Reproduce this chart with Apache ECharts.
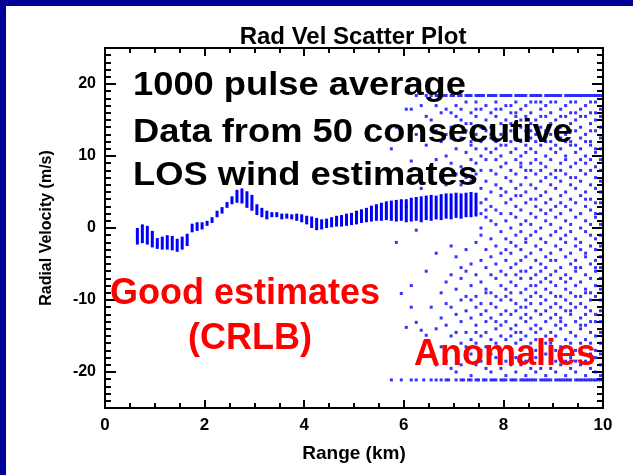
<!DOCTYPE html>
<html>
<head>
<meta charset="utf-8">
<script src="https://cdn.jsdelivr.net/npm/echarts@6/dist/echarts.min.js"></script>
<style>
html,body{margin:0;padding:0;background:#fff;}
#chart{width:633px;height:475px;}
</style>
</head>
<body>
<div id="chart"></div>
<script>
// ---- Data ----
const yTicks = [-20, -10, 0, 10, 20];

// "Good estimates": per range gate, spread (low..high) of the 50 consecutive estimates
const goodRange = [0.65,0.75,0.85,0.95,1.05,1.15,1.25,1.35,1.45,1.55,1.65,1.75,1.85,1.95,2.05,2.15,2.25,2.35,2.45,2.55,
  2.65,2.75,2.85,2.95,3.05,3.15,3.25,3.35,3.45,3.55,3.65,3.75,3.85,3.95,4.05,4.15,4.25,4.35,4.45,4.55,
  4.65,4.75,4.85,4.95,5.05,5.15,5.25,5.35,5.45,5.55,5.65,5.75,5.85,5.95,6.05,6.15,6.25,6.35,6.45,6.55,
  6.65,6.75,6.85,6.95,7.05,7.15,7.25,7.35,7.45];
const goodLow = [-2.3,-2.1,-2.3,-2.7,-2.9,-3.0,-3.0,-3.1,-3.3,-3.0,-2.5,-0.6,-0.4,-0.2,0.3,0.7,1.5,2.0,2.8,3.3,
  3.5,3.4,2.8,2.4,1.8,1.5,1.2,1.5,1.5,1.2,1.3,1.2,1.0,0.8,0.5,0.0,-0.3,-0.2,0.0,0.1,
  0.2,0.2,0.3,0.4,0.5,0.7,0.8,0.9,1.0,1.0,1.1,1.0,0.9,1.0,0.8,0.9,1.0,0.8,1.1,1.0,
  1.2,1.1,1.3,1.2,1.4,1.3,1.5,1.5,1.6];
const goodHigh = [0.0,0.5,0.3,-0.4,-1.4,-1.2,-1.0,-1.1,-1.5,-1.2,-0.8,0.6,0.8,0.8,1.0,1.5,2.4,2.9,3.6,4.4,
  5.3,5.5,5.1,4.6,3.3,2.8,2.4,2.2,2.2,2.0,2.0,1.9,2.0,1.9,1.7,1.6,1.4,1.2,1.3,1.5,
  1.7,1.8,2.0,2.1,2.4,2.6,2.8,3.1,3.3,3.5,3.7,3.8,3.9,4.0,4.0,4.2,4.3,4.4,4.5,4.6,
  4.5,4.7,4.8,4.8,4.9,4.8,4.9,5.0,4.9];

// "Anomalies": scattered estimates per range gate
const anomRange = [5.75,5.85,5.95,6.05,6.15,6.25,6.35,6.45,6.55,6.65,6.75,6.85,6.95,7.05,7.15,7.25,7.35,7.45,7.55,7.65,
  7.75,7.85,7.95,8.05,8.15,8.25,8.35,8.45,8.55,8.65,8.75,8.85,8.95,9.05,9.15,9.25,9.35,9.45,9.55,9.65,
  9.75,9.85,9.95];
const anomVel = [
  [11.0],
  [-2.0, 14.0],
  [-9.1, 6.5],
  [-13.8, 16.5, 3.0],
  [9.3, -8.0, -11.0, 16.5],
  [-0.3, -13.1, 13.0],
  [-14.2, 5.5, 17.0],
  [-14.9, 11.5, -6.0, 15.5],
  [-11.0, 8.0, 15.0, -17.5],
  [13.5, -3.5, -14.0, 17.0, -19.0, 9.5],
  [7.0, -9.0, -16.5, 12.0, 16.0, -12.5],
  [16.5, 10.0, -7.5, -13.5, -18.5, 6.0, -10.5, 13.0],
  [14.0, 9.0, -2.5, -11.0, -15.0, -19.5, 12.5, -6.5, 16.0],
  [17.0, 11.0, 7.5, -8.5, -12.0, -17.0, -20.0, 15.5, -4.0, -14.5],
  [15.0, 12.5, 8.5, 6.0, -7.0, -10.0, -13.0, -16.0, -19.0, 16.5, -5.5],
  [17.5, 13.5, 10.5, 7.0, -3.0, -9.5, -11.5, -14.5, -18.0, 14.5, -6.0, -16.5],
  [16.0, 14.5, 11.5, 9.5, 6.5, -5.0, -8.0, -12.5, -15.5, -17.5, -20.5, 12.0, -10.0],
  [17.5, 15.5, 13.0, 9.0, 7.5, -2.0, -6.5, -9.5, -11.0, -13.5, -16.0, -19.0, 11.0, -14.5, 16.5],
  [16.5, 14.0, 12.0, 10.0, 8.0, 5.5, 0.0, -4.5, -7.5, -10.5, -12.0, -15.0, -17.0, -18.5, 3.5, 2.0, -1.0],
  [17.0, 15.0, 13.5, 11.0, 9.5, 6.5, 4.0, 1.5, -3.0, -5.5, -8.5, -11.5, -13.0, -14.5, -16.5, -19.5, 2.5, -9.0],
  [16.0, 14.0, 12.5, 10.5, 8.0, 5.0, 3.0, -1.5, -4.0, -6.5, -9.0, -10.5, -12.5, -15.5, -17.5, -20.0, 1.0, 13.0],
  [17.5, 15.5, 12.0, 9.5, 7.5, 6.0, 2.5, 0.5, -2.5, -5.0, -7.0, -9.5, -11.0, -14.0, -16.0, -18.0, 11.0, -13.0, 16.5],
  [16.5, 14.5, 13.0, 10.0, 8.5, 4.5, 2.0, -0.5, -3.5, -6.0, -8.0, -10.0, -12.0, -13.5, -15.0, -17.0, -19.5, 11.5, 5.5],
  [17.0, 15.0, 12.5, 11.5, 9.0, 7.0, 5.0, 3.5, 1.0, -1.5, -4.5, -6.5, -8.5, -9.5, -11.5, -13.0, -15.5, -16.5, -18.5, -20.5, 14.0, -3.0],
  [16.0, 14.5, 13.5, 10.5, 8.0, 6.5, 4.0, 2.0, 0.0, -2.0, -3.5, -5.5, -7.5, -10.0, -12.0, -14.0, -15.0, -17.5, -19.0, 12.0, -9.0, 17.0],
  [17.5, 15.5, 13.0, 11.0, 9.5, 7.5, 5.5, 3.0, 1.5, -1.0, -2.5, -5.0, -6.5, -8.0, -10.5, -11.5, -13.5, -16.0, -18.0, -20.0, 16.0, 4.5, -14.5],
  [16.5, 14.0, 12.0, 10.0, 8.5, 6.0, 4.5, 2.5, 0.5, -0.5, -3.0, -4.5, -7.0, -9.0, -11.0, -12.5, -14.5, -15.5, -17.0, -19.0, 15.0, 9.0, -6.0],
  [17.0, 15.5, 13.5, 11.5, 10.5, 7.0, 5.0, 3.5, 1.0, -1.5, -2.0, -4.0, -6.0, -8.5, -10.0, -12.0, -13.0, -15.0, -16.5, -18.5, -20.5, 8.0, -11.0],
  [16.0, 14.5, 12.5, 11.0, 9.0, 8.0, 6.0, 4.0, 2.0, 0.5, -1.0, -3.5, -5.5, -7.0, -9.5, -10.5, -12.5, -14.0, -16.0, -17.5, -19.5, 17.5, 13.5, -8.0],
  [17.5, 15.0, 13.0, 10.5, 9.5, 7.5, 5.5, 3.0, 1.5, -0.5, -2.5, -4.5, -6.5, -8.0, -9.0, -11.5, -13.5, -15.5, -17.0, -18.0, -20.0, 12.0, 4.0, -14.5],
  [16.5, 14.0, 12.5, 11.5, 9.0, 6.5, 4.5, 2.5, 0.0, -1.5, -3.0, -5.0, -7.5, -9.5, -10.5, -12.0, -14.0, -16.5, -18.5, -19.5, 15.5, 8.0, -6.0, 17.5],
  [17.0, 15.5, 13.5, 10.0, 8.5, 7.0, 5.0, 3.5, 1.0, -2.0, -4.0, -5.5, -8.5, -10.0, -11.5, -13.0, -15.0, -16.0, -17.5, -20.5, 12.0, -7.0, 2.0],
  [16.0, 14.5, 12.0, 11.0, 9.5, 6.0, 4.0, 2.5, 0.5, -1.0, -3.5, -6.5, -7.5, -9.0, -11.0, -12.5, -14.5, -16.0, -18.0, -19.5, 17.5, 13.0, 7.5, -4.5, -15.5],
  [17.5, 15.0, 13.5, 10.5, 8.0, 7.0, 5.5, 3.0, 1.5, -0.5, -2.5, -4.5, -6.0, -8.0, -10.5, -12.0, -13.5, -15.0, -17.0, -18.5, -20.0, 11.5, -9.5],
  [16.5, 14.0, 12.5, 11.0, 9.0, 6.5, 4.5, 2.0, 0.0, -1.5, -3.0, -5.5, -7.0, -9.5, -11.0, -12.5, -14.0, -16.5, -17.5, -19.0, 15.5, 8.0, -13.0, 3.5],
  [17.0, 15.5, 13.0, 10.0, 9.5, 7.5, 5.0, 3.0, 1.0, -1.0, -2.0, -4.0, -6.5, -8.5, -10.0, -11.5, -13.5, -15.5, -16.5, -18.5, -20.5, 12.0, -7.5],
  [16.0, 14.5, 12.0, 11.5, 8.5, 6.0, 4.0, 2.5, 0.5, -0.5, -3.5, -5.0, -7.0, -9.0, -10.5, -12.0, -14.5, -16.0, -18.0, -19.5, 17.5, 13.5, 7.0, -11.5],
  [17.5, 15.0, 13.5, 10.5, 9.0, 7.0, 5.5, 3.5, 1.5, -1.5, -2.5, -4.5, -6.0, -8.0, -9.5, -11.0, -13.0, -15.0, -17.0, -18.5, -20.0, 11.5, -5.5, 16.0],
  [16.5, 14.0, 12.5, 11.0, 8.0, 6.5, 4.5, 2.0, 0.0, -2.0, -3.0, -5.5, -7.5, -9.5, -10.5, -12.5, -14.0, -16.0, -17.5, -19.0, 15.5, 9.5, -13.5],
  [17.0, 15.5, 13.0, 10.0, 9.0, 7.5, 5.0, 3.0, 1.0, -0.5, -3.5, -4.0, -6.5, -8.5, -11.0, -12.0, -13.5, -15.5, -16.5, -18.5, -20.5, 12.0, -9.0, 4.0],
  [16.0, 14.5, 12.0, 11.5, 9.5, 6.0, 4.0, 2.5, 0.5, -1.0, -2.5, -5.0, -7.0, -9.0, -10.0, -11.5, -14.5, -16.0, -17.5, -19.5, 17.5, 13.5, 8.0, -13.0],
  [17.5, 15.0, 13.5, 10.5, 8.5, 7.0, 5.5, 3.5, 1.5, -1.5, -3.0, -4.5, -6.0, -8.0, -9.5, -12.0, -13.0, -15.0, -17.0, -18.0, -20.0, 11.0, -5.5, 16.0, 2.0],
  [16.5, 15.5, 14.0, 12.5, 11.0, 9.5, 8.0, 6.5, 5.0, 3.5, 2.0, 0.5, -1.0, -2.5, -4.0, -5.5, -7.0, -8.5, -10.0, -11.5, -13.0, -14.5, -16.0, -17.5, -19.0, -20.5]
];

// Estimates pinned at the velocity limits (top and bottom rows)
const topLimit = 18.4;
const topRowRange = [6.25,6.45,6.55,6.65,6.7,6.8,6.85,6.95,7.0,7.1,7.15,7.25,7.3,7.35,7.45,7.5,7.55,7.6,7.7,7.75,
  7.8,7.85,7.95,8.0,8.05,8.1,8.15,8.25,8.3,8.35,8.4,8.45,8.55,8.6,8.65,8.7,8.75,8.85,8.9,8.95,
  9.0,9.05,9.1,9.15,9.25,9.3,9.35,9.4,9.45,9.5,9.55,9.6,9.65,9.7,9.75,9.8,9.85,9.9,9.95];
const bottomLimit = -21.1;
const bottomRowRange = [5.75,5.95,6.15,6.25,6.4,6.55,6.65,6.75,6.85,6.9,7.05,7.15,7.2,7.3,7.35,7.45,7.5,7.6,7.65,7.75,
  7.8,7.85,7.95,8.0,8.05,8.15,8.2,8.25,8.35,8.4,8.45,8.5,8.55,8.6,8.65,8.75,8.8,8.85,8.9,8.95,
  9.05,9.1,9.15,9.2,9.25,9.3,9.35,9.45,9.5,9.55,9.6,9.65,9.7,9.75,9.8,9.85,9.9,9.95];

// ---- Build ----
const goodData = goodRange.map((r, i) => [r, goodLow[i], goodHigh[i]]);
const anomData = [];
anomRange.forEach((r, i) => anomVel[i].forEach(v => anomData.push([r, v])));
topRowRange.forEach(r => anomData.push([r, topLimit]));
bottomRowRange.forEach(r => anomData.push([r, bottomLimit]));

const FONT = '"Liberation Sans", Arial, Helvetica, sans-serif';
const BLUE = '#0000ff';

function tickStyle() { return { color: '#000', width: 2 }; }
function xAx(pos, showLabel) {
  return {
    type: 'value', position: pos, min: 0, max: 10, interval: 2,
    axisLine: { show: true, onZero: false, lineStyle: { color: '#000', width: 2 } },
    axisTick: { show: true, inside: true, length: 8, lineStyle: tickStyle() },
    minorTick: { show: true, splitNumber: 4, length: 5, lineStyle: tickStyle() },
    splitLine: { show: false }, minorSplitLine: { show: false },
    axisLabel: showLabel ? {
      show: true, margin: 9, fontSize: 17, fontWeight: 'bold', color: '#000', fontFamily: FONT
    } : { show: false },
    name: showLabel ? 'Range (km)' : '', nameLocation: 'middle', nameGap: 36,
    nameTextStyle: { fontSize: 19, fontWeight: 'bold', color: '#000', fontFamily: FONT }
  };
}
function yMinor(pos, showLabel) {
  return {
    type: 'value', position: pos, min: -25, max: 25, interval: 1,
    axisLine: { show: true, onZero: false, lineStyle: { color: '#000', width: 2 } },
    axisTick: { show: true, inside: true, length: 6, lineStyle: tickStyle() },
    splitLine: { show: false },
    axisLabel: showLabel ? {
      show: true, margin: 9, fontSize: 16, fontWeight: 'bold', color: '#000', fontFamily: FONT,
      formatter: function (v) { return yTicks.indexOf(Math.round(v)) >= 0 ? String(Math.round(v)) : ''; }
    } : { show: false },
    name: showLabel ? 'Radial Velocity (m/s)' : '', nameLocation: 'middle', nameGap: 50,
    nameTextStyle: { fontSize: 16, fontWeight: 'bold', color: '#000', fontFamily: FONT }
  };
}
function yMajor(pos) {
  return {
    type: 'value', position: pos, min: -25, max: 25, interval: 1,
    axisLine: { show: false, onZero: false },
    axisTick: { show: true, inside: true, length: 11, lineStyle: tickStyle(), customValues: yTicks },
    splitLine: { show: false },
    axisLabel: { show: false }
  };
}

const chart = echarts.init(document.getElementById('chart'), null, { renderer: 'canvas' });
chart.setOption({
  animation: false,
  backgroundColor: '#ffffff',
  title: {
    text: 'Rad Vel Scatter Plot', left: 348, top: 20, textAlign: 'center',
    textStyle: { fontSize: 24, fontWeight: 'bold', color: '#000', fontFamily: FONT }
  },
  grid: { left: 105, right: 30, top: 48, bottom: 67, containLabel: false },
  xAxis: [xAx('bottom', true), xAx('top', false)],
  yAxis: [yMinor('left', true), yMajor('left'), yMinor('right', false), yMajor('right')],
  series: [
    {
      type: 'custom', name: 'Good estimates', xAxisIndex: 0, yAxisIndex: 0,
      encode: { x: 0, y: [1, 2] },
      data: goodData,
      renderItem: function (params, api) {
        const x = api.value(0), lo = api.value(1), hi = api.value(2);
        const pTop = api.coord([x, hi]);
        const pBot = api.coord([x, lo]);
        return {
          type: 'rect',
          shape: { x: pTop[0] - 1.5, y: pTop[1], width: 3, height: Math.max(2, pBot[1] - pTop[1]) },
          style: { fill: BLUE }
        };
      },
      z: 3
    },
    {
      type: 'scatter', name: 'Anomalies', xAxisIndex: 0, yAxisIndex: 0,
      symbol: 'rect', symbolSize: 3,
      itemStyle: { color: BLUE },
      data: anomData, z: 3
    }
  ],
  graphic: [
    { type: 'rect', z: 200, shape: { x: 0, y: 0, width: 6, height: 475 }, style: { fill: '#000099' } },
    { type: 'rect', z: 200, shape: { x: 0, y: 0, width: 633, height: 6 }, style: { fill: '#000099' } },
    { type: 'text', z: 100, x: 133, y: 86, scaleX: 1.1,
      style: { text: '1000 pulse average', fill: '#000', fontSize: 33, fontWeight: 'bold', fontFamily: FONT, align: 'left', verticalAlign: 'middle' } },
    { type: 'text', z: 100, x: 133, y: 133, scaleX: 1.1,
      style: { text: 'Data from 50 consecutive', fill: '#000', fontSize: 33, fontWeight: 'bold', fontFamily: FONT, align: 'left', verticalAlign: 'middle' } },
    { type: 'text', z: 100, x: 133, y: 176, scaleX: 1.1,
      style: { text: 'LOS wind estimates', fill: '#000', fontSize: 33, fontWeight: 'bold', fontFamily: FONT, align: 'left', verticalAlign: 'middle' } },
    { type: 'text', z: 100, x: 245, y: 294,
      style: { text: 'Good estimates', fill: '#ff0000', fontSize: 36, fontWeight: 'bold', fontFamily: FONT, align: 'center', verticalAlign: 'middle' } },
    { type: 'text', z: 100, x: 250, y: 339,
      style: { text: '(CRLB)', fill: '#ff0000', fontSize: 36, fontWeight: 'bold', fontFamily: FONT, align: 'center', verticalAlign: 'middle' } },
    { type: 'text', z: 100, x: 505, y: 355,
      style: { text: 'Anomalies', fill: '#ff0000', fontSize: 36, fontWeight: 'bold', fontFamily: FONT, align: 'center', verticalAlign: 'middle' } }
  ]
});
</script>
</body>
</html>
